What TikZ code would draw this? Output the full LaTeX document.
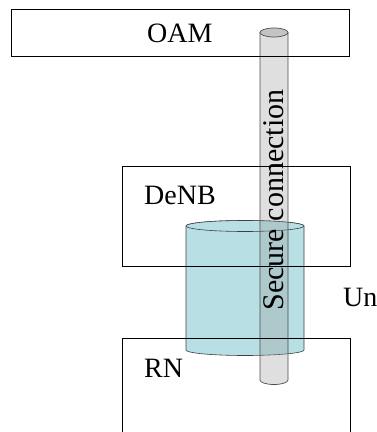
\documentclass[tikz,border=0pt]{standalone}
\usepackage{fontspec}
\setmainfont{Liberation Serif}
\tikzset{
  boxline/.style={draw=black, line width=0.8pt},
  lbl/.style={font=\fontsize{28}{30}\selectfont, inner sep=0pt},
  seclbl/.style={font=\fontsize{30}{32}\selectfont, inner sep=0pt},
  cylfill/.style={fill=cylcol},
  tubefill/.style={fill=tubegray, fill opacity=0.3},
}
\definecolor{cylcol}{RGB}{184,224,228}
\definecolor{tubegray}{RGB}{150,150,150}
\definecolor{tubetop}{RGB}{196,196,196}
\begin{document}
\begin{tikzpicture}[x=1pt,y=1pt]
\useasboundingbox (0,0) rectangle (376,432);
% big cylinder (Un)
\path[cylfill, draw=black!75, line width=0.6pt]
  (186,206) -- (186,82) arc[start angle=180, end angle=360, x radius=59, y radius=5.5]
  -- (304,206) arc[start angle=0, end angle=180, x radius=59, y radius=5.5] -- cycle;
\path[cylfill, draw=black!75, line width=0.6pt] (245,206) ellipse[x radius=59, y radius=5.5];
% tube (secure connection)
\path[tubefill] (260,399.5) -- (260,52) arc[start angle=180, end angle=360, x radius=14, y radius=4.5]
  -- (288,399.5) -- cycle;
\draw[draw=black!70, line width=0.7pt] (260,399.5) -- (260,52) arc[start angle=180, end angle=360, x radius=14, y radius=4.5]
  -- (288,399.5);
\path[fill=tubetop, draw=black!70, line width=0.7pt] (274,399.5) ellipse[x radius=14, y radius=4.5];
% boxes
\node[boxline, minimum width=338pt, minimum height=47pt, inner sep=0pt] (oam) at (180,399.5) {};
\node[boxline, minimum width=228pt, minimum height=100pt, inner sep=0pt] (denb) at (236,216) {};
\coordinate (rnbl) at (122,-5);
\coordinate (rnbr) at (350,-5);
\draw[boxline] (rnbl) -- (122,94) -- (350,94) -- (rnbr);
% labels
\node[lbl, anchor=base west] (toam) at (147,389) {OAM};
\node[lbl, anchor=base west] (tdenb) at (144,227) {DeNB};
\node[lbl, anchor=base west] (trn) at (144,54) {RN};
\node[lbl, anchor=base west] (tun) at (343,125) {Un};
\node[seclbl, rotate=90, anchor=center] (tsec) at (273.5,232) {Secure connection};
\end{tikzpicture}
\end{document}
